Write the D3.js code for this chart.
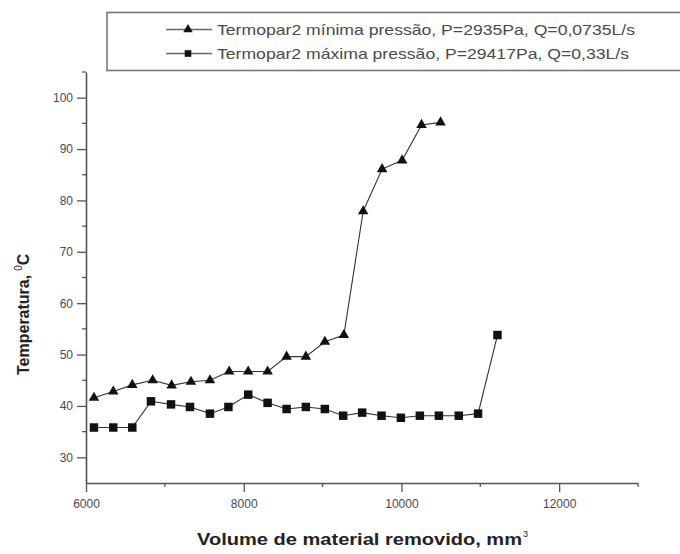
<!DOCTYPE html>
<html>
<head>
<meta charset="utf-8">
<script src="https://cdn.jsdelivr.net/npm/d3@7"></script>
<style>
  body { margin: 0; background: #fff; }
  svg { display: block; }
  text { font-family: "Liberation Sans Narrow", "Liberation Sans", Arial, sans-serif; }
</style>
</head>
<body>
<script>
// data
var triX = [6101, 6346, 6587, 6845, 7086, 7331, 7572, 7816, 8057, 8303, 8544, 8788, 9029, 9270, 9515, 9755, 10009, 10255, 10496];
var triY = [41.6, 42.8, 44.1, 45.0, 44.0, 44.7, 45.0, 46.7, 46.7, 46.7, 49.6, 49.6, 52.5, 53.8, 77.9, 86.1, 87.8, 94.7, 95.2];
var sqX = [6101, 6346, 6587, 6824, 7078, 7319, 7572, 7806, 8057, 8303, 8544, 8788, 9029, 9261, 9502, 9748, 9993, 10234, 10475, 10727, 10972, 11218];
var sqY = [35.8, 35.8, 35.8, 40.9, 40.3, 39.8, 38.5, 39.8, 42.2, 40.6, 39.4, 39.8, 39.4, 38.1, 38.7, 38.1, 37.7, 38.1, 38.1, 38.1, 38.5, 53.8];
var seriesNames = ["Termopar2 mínima pressão, P=2935Pa, Q=0,0735L/s",
                   "Termopar2 máxima pressão, P=29417Pa, Q=0,33L/s"];
var xMajor = [6000, 8000, 10000, 12000];
var xMinor = [7000, 9000, 11000, 13000];
var yMajor = [30, 40, 50, 60, 70, 80, 90, 100];
var yMinor = [35, 45, 55, 65, 75, 85, 95, 105];

var width = 680, height = 554;

var svg = d3.select("body").append("svg")
    .attr("width", width)
    .attr("height", height);

// set the ranges
var x = d3.scaleLinear().domain([6000, 13000]).range([86, 638]);
var y = d3.scaleLinear().domain([25, 105]).range([483, 72]);

var axisColor = "#555", textColor = "#4a4a4a";

// x axis
var xAxis = svg.append("g").attr("transform", "translate(0," + y(25) + ")");
xAxis.call(d3.axisBottom(x).tickValues(xMajor).tickSize(9).tickSizeOuter(0).tickFormat(d3.format("d")));
xAxis.selectAll(".minor").data(xMinor).enter().append("line")
    .attr("class", "minor")
    .attr("x1", function(d) { return x(d); })
    .attr("x2", function(d) { return x(d); })
    .attr("y1", 0).attr("y2", 4);

// y axis
var yAxis = svg.append("g").attr("transform", "translate(" + x(6000) + ",0)");
yAxis.call(d3.axisLeft(y).tickValues(yMajor).tickSize(9).tickSizeOuter(0).tickFormat(d3.format("d")));
yAxis.selectAll(".minor").data(yMinor).enter().append("line")
    .attr("class", "minor")
    .attr("y1", function(d) { return y(d); })
    .attr("y2", function(d) { return y(d); })
    .attr("x1", 0).attr("x2", -4);

svg.selectAll(".domain").attr("stroke", axisColor).attr("stroke-width", 1.6);
svg.selectAll(".tick line, line.minor").attr("stroke", axisColor).attr("stroke-width", 1.3);
svg.selectAll(".tick text")
    .attr("fill", textColor)
    .style("font-size", "12px")
    .style("font-family", "'Liberation Sans Narrow', 'Liberation Sans', sans-serif");
xAxis.selectAll(".tick text").attr("dy", "1.05em");
yAxis.selectAll(".tick text").attr("dx", "-1px");

// lines + markers
var line = d3.line()
    .x(function(d) { return x(d[0]); })
    .y(function(d) { return y(d[1]); });

var tri = d3.zip(triX, triY);
var sq = d3.zip(sqX, sqY);

[[tri, d3.symbolTriangle, 48], [sq, d3.symbolSquare, 72]].forEach(function(s) {
  svg.append("path")
      .attr("d", line(s[0]))
      .attr("fill", "none")
      .attr("stroke", "#333")
      .attr("stroke-width", 1.1);
  svg.selectAll(null).data(s[0]).enter().append("path")
      .attr("d", d3.symbol().type(s[1]).size(s[2]))
      .attr("transform", function(d) { return "translate(" + x(d[0]) + "," + y(d[1]) + ")"; })
      .attr("fill", "#111");
});

// legend
var legend = svg.append("g");
legend.append("rect")
    .attr("x", 107).attr("y", 12.5)
    .attr("width", 580).attr("height", 58)
    .attr("fill", "#fff")
    .attr("stroke", "#777")
    .attr("stroke-width", 1.6);

var legRows = [
  {name: seriesNames[0], sym: d3.symbolTriangle, size: 40, len: 418},
  {name: seriesNames[1], sym: d3.symbolSquare, size: 44, len: 412}
];
legRows.forEach(function(r, i) {
  var cy = 29.5 + i * 24;
  legend.append("line")
      .attr("x1", 166).attr("x2", 212)
      .attr("y1", cy).attr("y2", cy)
      .attr("stroke", "#666").attr("stroke-width", 1.4);
  legend.append("path")
      .attr("d", d3.symbol().type(r.sym).size(r.size))
      .attr("transform", "translate(188," + cy + ")")
      .attr("fill", "#111");
  legend.append("text")
      .attr("x", 217).attr("y", cy + 5)
      .attr("fill", textColor)
      .attr("textLength", r.len)
      .attr("lengthAdjust", "spacingAndGlyphs")
      .style("font-size", "15px")
      .text(r.name);
});

// axis titles
svg.append("text")
    .attr("x", 197).attr("y", 545)
    .attr("textLength", 325)
    .attr("lengthAdjust", "spacingAndGlyphs")
    .attr("fill", "#222")
    .style("font-size", "16px")
    .style("font-weight", "bold")
    .style("font-family", "'Liberation Sans', Arial, sans-serif")
    .text("Volume de material removido, mm");
svg.append("text")
    .attr("x", 523).attr("y", 537)
    .attr("fill", "#222")
    .style("font-size", "9px")
    .text("3");

var yTitle = svg.append("text")
    .attr("transform", "translate(29,375) rotate(-90)")
    .attr("fill", "#222")
    .style("font-size", "16px")
    .style("font-weight", "bold")
    .style("font-family", "'Liberation Sans', Arial, sans-serif");
yTitle.append("tspan").text("Temperatura,");
yTitle.append("tspan").attr("dx", 4).attr("dy", -7).style("font-size", "10px").style("font-weight", "normal").text("0");
yTitle.append("tspan").attr("dy", 7).text("C");
</script>
</body>
</html>
